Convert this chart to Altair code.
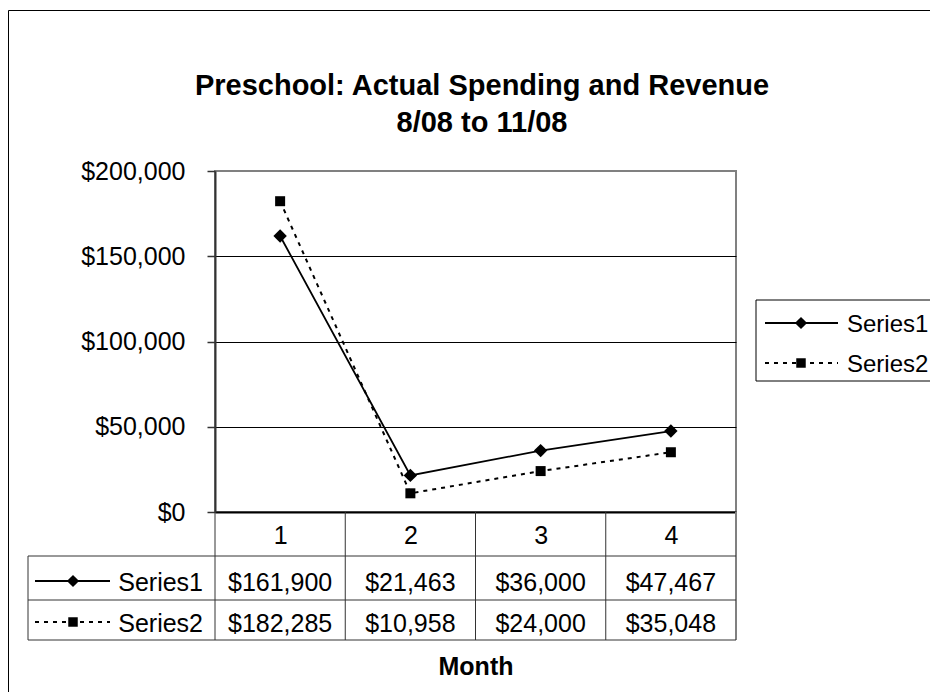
import altair as alt
import pandas as pd

# ---- data ----
months = [1, 2, 3, 4]
series_names = ["Series1", "Series2"]
series1 = [161900, 21463, 36000, 47467]
series2 = [182285, 10958, 24000, 35048]
y_ticks = [0, 50000, 100000, 150000, 200000]
title_lines = ["Preschool: Actual Spending and Revenue", "8/08 to 11/08"]
x_title = "Month"

df = pd.DataFrame({
    "month": months * 2,
    "value": series1 + series2,
    "series": [series_names[0]] * len(months) + [series_names[1]] * len(months),
})
bounds = pd.DataFrame({"b": [m - 0.5 for m in months] + [months[-1] + 0.5]})
anno = pd.DataFrame({"k": [0]})

# ---- layout (pixels, plot-area coordinates) ----
FONT = "Liberation Sans"
FS = 25
W, H = 521, 341
TABLE_LEFT = -187
ROW1_TOP, ROW2_TOP, TABLE_BOTTOM = 385, 429, 469
ROW_Y = [411.5, 452.5]
SYM_Y = [410, 451]
DASH = [4, 5]
LINE_GREY = "#808080"
TABLE_COL = "#333333"

xscale = alt.Scale(domain=[0.5, 4.5], nice=False, zero=False)
yscale = alt.Scale(domain=[0, 200000], nice=False)

x_axis = alt.Axis(
    values=months, format="d", title=x_title,
    titleFont=FONT, titleFontSize=FS, titleFontWeight="bold", titleColor="black",
    titleY=154.5, titleBaseline="middle",
    labelFont=FONT, labelFontSize=FS, labelColor="black", labelBaseline="middle",
    labelPadding=23, tickSize=0, labelAngle=0,
    domainColor="black", domainWidth=2, grid=False,
)
y_axis = alt.Axis(
    values=y_ticks, format="$,.0f", title=None,
    labelFont=FONT, labelFontSize=FS, labelColor="black", labelPadding=22,
    tickSize=8, tickColor=TABLE_COL, tickWidth=1.5,
    domainColor=TABLE_COL, domainWidth=2,
    grid=True, gridWidth=1,
    gridColor={"condition": {"test": "datum.value >= 200000", "value": LINE_GREY}, "value": "black"},
)

base = alt.Chart(df)
s1 = base.transform_filter(alt.datum.series == series_names[0])
s2 = base.transform_filter(alt.datum.series == series_names[1])

X = alt.X("month:Q", scale=xscale, axis=x_axis)
Y = alt.Y("value:Q", scale=yscale, axis=y_axis)
Xp = alt.X("month:Q", scale=xscale)
Yp = alt.Y("value:Q", scale=yscale)

line1 = s1.mark_line(color="black", strokeWidth=1.8).encode(x=X, y=Y)
line2 = s2.mark_line(color="black", strokeWidth=2, strokeDash=DASH).encode(x=Xp, y=Yp)
pts1 = s1.mark_point(shape="diamond", filled=True, color="black", size=180, opacity=1).encode(x=Xp, y=Yp)
pts2 = s2.mark_point(shape="square", filled=True, color="black", size=100, opacity=1).encode(x=Xp, y=Yp)

# ---- data table under the plot ----
val1 = s1.mark_text(font=FONT, fontSize=FS, color="black", baseline="middle").encode(
    x=Xp, y=alt.value(ROW_Y[0]), text=alt.Text("value:Q", format="$,.0f"))
val2 = s2.mark_text(font=FONT, fontSize=FS, color="black", baseline="middle").encode(
    x=Xp, y=alt.value(ROW_Y[1]), text=alt.Text("value:Q", format="$,.0f"))

vlines = alt.Chart(bounds).transform_filter(alt.datum.b < 4.5).mark_rule(
    color=TABLE_COL, strokeWidth=1).encode(
    x=alt.X("b:Q", scale=xscale), y=alt.value(H), y2=alt.value(TABLE_BOTTOM))
vright = alt.Chart(bounds).transform_filter(alt.datum.b >= 4.5).mark_rule(
    color=LINE_GREY, strokeWidth=2).encode(
    x=alt.X("b:Q", scale=xscale), y=alt.value(H), y2=alt.value(TABLE_BOTTOM))

A = alt.Chart(anno)
hl = [A.mark_rule(color=TABLE_COL, strokeWidth=1).encode(
    x=alt.value(TABLE_LEFT), x2=alt.value(W), y=alt.value(yy))
    for yy in (ROW1_TOP, ROW2_TOP, TABLE_BOTTOM)]
vleft = A.mark_rule(color=TABLE_COL, strokeWidth=1).encode(
    x=alt.value(TABLE_LEFT), y=alt.value(ROW1_TOP), y2=alt.value(TABLE_BOTTOM))


def key(x0, x1, xm, xt, y, yt, dash, shape, size, label, align, fs=FS):
    r = A.mark_rule(color="black", strokeWidth=1.8, strokeDash=dash).encode(
        x=alt.value(x0), x2=alt.value(x1), y=alt.value(y))
    p = A.mark_point(shape=shape, filled=True, color="black", size=size, opacity=1).encode(
        x=alt.value(xm), y=alt.value(y))
    t = A.mark_text(font=FONT, fontSize=fs, color="black", align=align, baseline="middle",
                    text=label).encode(x=alt.value(xt), y=alt.value(yt))
    return [r, p, t]


row_keys = (key(-180, -105, -142, -12, SYM_Y[0], ROW_Y[0], [1, 0], "diamond", 150, series_names[0], "right")
            + key(-180, -105, -142, -12, SYM_Y[1], ROW_Y[1], DASH, "square", 90, series_names[1], "right"))

# ---- legend ----
legend_box = A.mark_rect(fillOpacity=0, stroke="black", strokeWidth=1).encode(
    x=alt.value(541), x2=alt.value(760), y=alt.value(129), y2=alt.value(210))
legend_keys = (key(550, 623, 586, 632, 152, 153.5, [1, 0], "diamond", 150, series_names[0], "left", 24)
               + key(550, 623, 586, 632, 192, 193.5, DASH, "square", 90, series_names[1], "left", 24))

# ---- title (two centred lines) and outer frame ----
title_marks = [
    A.mark_text(font=FONT, fontSize=29, fontWeight="bold", color="black",
                align="center", baseline="middle", text=t).encode(
        x=alt.value(267), y=alt.value(yy))
    for t, yy in zip(title_lines, (-85.5, -48.5))
]
frame = A.mark_rect(fillOpacity=0, stroke="black", strokeWidth=1).encode(
    x=alt.value(-206.5), x2=alt.value(760), y=alt.value(-160.5), y2=alt.value(560))

chart = alt.layer(
    line1, line2, pts1, pts2, val1, val2, vlines, vright, *hl, vleft,
    *row_keys, legend_box, *legend_keys, *title_marks, frame,
).properties(
    width=W, height=H,
    autosize=alt.AutoSizeParams(type="none"),
    padding={"left": 207, "top": 163, "right": 194, "bottom": 180},
    background="white",
).configure_view(stroke=LINE_GREY, strokeWidth=2)

chart.save("out.html", embed_options={"renderer": "svg", "actions": False})
